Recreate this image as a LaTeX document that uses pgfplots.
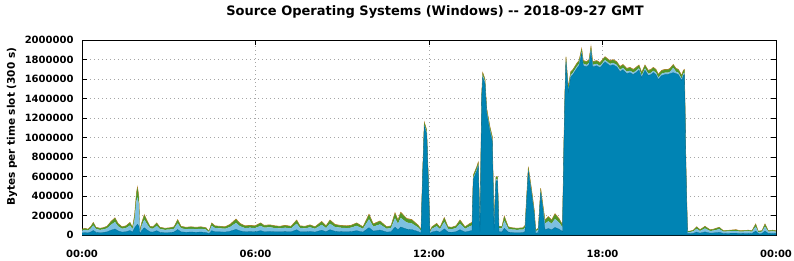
\documentclass[border=0pt]{standalone}
\usepackage{fontspec}
\setmainfont{DejaVu Sans}
\usepackage{pgfplots}
\usepackage{pgfplotstable}
\pgfplotsset{compat=1.18}
\definecolor{cA}{RGB}{0,132,180}
\definecolor{cB}{RGB}{125,192,225}
\definecolor{cC}{RGB}{82,150,40}
\definecolor{cD}{RGB}{185,130,45}
\pgfplotstableread{
x a b c d
0 21000 24000 13000 2000
0.104 25000 28000 15000 2000
0.207 21000 24000 13000 2000
0.311 32000 36000 20000 2000
0.391 46000 52000 29000 3000
0.484 28000 32000 18000 2000
0.622 25000 28000 15000 2000
0.726 26000 30000 17000 2000
0.864 32000 36000 20000 2000
1.003 49000 56000 31000 4000
1.141 62000 71000 39000 5000
1.245 42000 48000 26000 4000
1.383 30000 34000 19000 2000
1.521 33000 38000 21000 3000
1.660 46000 52000 29000 3000
1.746 28000 32000 18000 2000
1.816 70000 80000 44000 6000
1.885 100000 250000 80000 10000
1.919 110000 280000 95000 10000
1.964 90000 230000 72000 8000
2.006 14000 16000 9000 1000
2.058 42000 48000 26000 4000
2.154 74000 84000 46000 6000
2.248 52000 60000 33000 5000
2.352 32000 36000 20000 2000
2.455 30000 34000 19000 2000
2.583 44000 50000 28000 3000
2.697 28000 32000 18000 2000
2.870 25000 28000 15000 2000
3.043 26000 30000 17000 2000
3.182 30000 34000 19000 2000
3.309 56000 64000 35000 5000
3.424 32000 36000 20000 2000
3.597 28000 32000 18000 2000
3.769 30000 34000 19000 2000
3.942 28000 32000 18000 2000
4.115 30000 34000 19000 2000
4.288 26000 30000 17000 2000
4.392 14000 16000 9000 1000
4.485 44000 50000 28000 3000
4.600 33000 38000 21000 3000
4.773 32000 36000 20000 2000
4.946 30000 34000 19000 2000
5.119 38000 44000 24000 4000
5.326 58000 66000 36000 5000
5.464 42000 48000 26000 4000
5.637 33000 38000 21000 3000
5.810 35000 40000 22000 3000
5.983 33000 38000 21000 3000
6.180 44000 50000 28000 3000
6.294 35000 40000 22000 3000
6.502 37000 42000 23000 3000
6.674 33000 38000 21000 3000
6.847 32000 36000 20000 2000
7.020 35000 40000 22000 3000
7.228 32000 36000 20000 2000
7.425 54000 62000 34000 5000
7.539 33000 38000 21000 3000
7.712 32000 36000 20000 2000
7.885 37000 42000 23000 3000
8.058 30000 34000 19000 2000
8.289 49000 56000 31000 4000
8.438 33000 38000 21000 3000
8.576 54000 62000 34000 5000
8.749 38000 44000 24000 4000
8.922 35000 40000 22000 3000
9.154 33000 38000 21000 3000
9.302 35000 40000 22000 3000
9.500 44000 50000 28000 3000
9.717 30000 34000 19000 2000
9.925 75000 86000 47000 7000
10.073 40000 46000 25000 4000
10.305 51000 58000 32000 4000
10.537 30000 34000 19000 2000
10.686 33000 38000 21000 3000
10.824 80000 92000 51000 7000
10.928 54000 62000 34000 5000
11.021 82000 94000 52000 7000
11.229 60000 68000 37000 5000
11.401 56000 64000 35000 5000
11.630 35000 40000 22000 3000
11.723 21000 24000 13000 2000
11.775 555000 15000 25000 5000
11.837 1115000 15000 25000 5000
11.920 1035000 15000 25000 5000
11.976 555000 15000 25000 5000
12.034 14000 16000 9000 1000
12.103 30000 34000 19000 2000
12.266 42000 48000 26000 4000
12.380 28000 32000 18000 2000
12.529 63000 72000 40000 5000
12.657 30000 34000 19000 2000
12.785 28000 32000 18000 2000
12.934 33000 38000 21000 3000
13.072 54000 62000 34000 5000
13.245 30000 34000 19000 2000
13.418 42000 48000 26000 4000
13.487 46000 52000 29000 3000
13.532 570000 15000 25000 5000
13.650 655000 15000 25000 5000
13.705 705000 15000 25000 5000
13.764 35000 40000 22000 3000
13.822 1400000 20000 25000 5000
13.857 1619000 20000 25000 5000
13.936 1550000 20000 25000 5000
13.995 1250000 20000 25000 5000
14.109 1060000 20000 25000 5000
14.189 960000 20000 25000 5000
14.248 52000 60000 33000 5000
14.317 555000 15000 25000 5000
14.369 555000 15000 25000 5000
14.421 32000 36000 20000 2000
14.524 32000 36000 20000 2000
14.604 68000 78000 43000 6000
14.742 30000 34000 19000 2000
14.870 26000 30000 17000 2000
15.043 25000 28000 15000 2000
15.251 26000 30000 17000 2000
15.320 35000 40000 22000 3000
15.434 655000 15000 25000 5000
15.551 415000 15000 25000 5000
15.641 210000 15000 25000 5000
15.690 18000 20000 11000 1000
15.780 25000 28000 15000 2000
15.863 435000 15000 25000 5000
15.932 280000 15000 25000 5000
16.011 54000 62000 34000 5000
16.125 66000 76000 42000 6000
16.243 54000 62000 34000 5000
16.357 77000 88000 48000 7000
16.495 60000 68000 37000 5000
16.589 42000 48000 26000 4000
16.616 35000 40000 22000 3000
16.668 950000 20000 25000 5000
16.703 1445000 25000 25000 5000
16.737 1775000 20000 30000 5000
16.817 1465000 20000 30000 5000
16.900 1620000 20000 30000 5000
16.980 1645000 20000 30000 5000
17.107 1705000 20000 30000 5000
17.187 1735000 20000 30000 5000
17.280 1860000 20000 30000 5000
17.336 1735000 20000 30000 5000
17.453 1725000 20000 30000 5000
17.533 1745000 20000 30000 5000
17.602 1885000 20000 30000 5000
17.661 1725000 20000 30000 5000
17.799 1735000 20000 30000 5000
17.913 1715000 20000 30000 5000
18.086 1775000 20000 30000 5000
18.259 1735000 20000 30000 5000
18.363 1745000 20000 30000 5000
18.491 1725000 20000 30000 5000
18.605 1675000 20000 30000 5000
18.709 1695000 20000 30000 5000
18.837 1655000 20000 30000 5000
18.951 1665000 20000 30000 5000
19.065 1645000 20000 30000 5000
19.158 1665000 20000 30000 5000
19.262 1690000 20000 30000 5000
19.355 1615000 20000 30000 5000
19.469 1690000 20000 30000 5000
19.583 1635000 20000 30000 5000
19.677 1645000 20000 30000 5000
19.756 1665000 20000 30000 5000
19.850 1645000 20000 30000 5000
19.929 1595000 20000 30000 5000
20.047 1635000 20000 30000 5000
20.161 1645000 20000 30000 5000
20.265 1645000 20000 30000 5000
20.334 1655000 20000 30000 5000
20.448 1665000 50000 30000 5000
20.541 1655000 20000 30000 5000
20.621 1645000 20000 30000 5000
20.738 1585000 20000 30000 5000
20.794 1635000 20000 30000 5000
20.835 1645000 20000 30000 5000
20.887 655000 15000 25000 5000
20.939 14000 16000 9000 1000
21.025 14000 16000 9000 1000
21.140 18000 20000 11000 1000
21.257 30000 34000 19000 2000
21.371 19000 22000 12000 2000
21.544 32000 36000 20000 2000
21.717 19000 22000 12000 2000
21.831 21000 24000 13000 2000
22.039 28000 32000 18000 2000
22.177 16000 18000 10000 1000
22.409 18000 20000 11000 1000
22.616 19000 22000 12000 2000
22.755 16000 18000 10000 1000
23.042 18000 20000 11000 1000
23.170 16000 18000 10000 1000
23.297 40000 46000 25000 4000
23.387 14000 16000 9000 1000
23.515 16000 18000 10000 1000
23.619 40000 46000 25000 4000
23.733 16000 18000 10000 1000
23.885 18000 20000 11000 1000
24.000 16000 18000 10000 1000
}\data
\begin{document}
\begin{tikzpicture}[x=1pt,y=1pt]
\useasboundingbox (0,0) rectangle (794,260);
\begin{axis}[
  at={(82pt,25pt)}, anchor=south west,
  scale only axis, width=694pt, height=195pt,
  xmin=0, xmax=24, ymin=0, ymax=2000000,
  stack plots=y,
  xtick={0,6,12,18,24},
  xticklabels={00:00,06:00,12:00,18:00,00:00},
  ytick={0,200000,400000,600000,800000,1000000,1200000,1400000,1600000,1800000,2000000},
  scaled y ticks=false,
  /pgf/number format/assume math mode=true,
  /pgf/number format/set thousands separator={},
  yticklabel={\pgfmathprintnumber[fixed,precision=0]{\tick}},
  tick label style={font=\fontsize{10}{12}\selectfont\bfseries},
  xticklabel style={yshift=-12pt},
  yticklabel style={xshift=-5pt},
  tick align=inside,
  major tick length=5pt,
  tick style={black, line width=0.8pt},
  axis line style={line width=1pt},
  grid=major,
  major grid style={gray!70, dash pattern=on 1pt off 3pt, line width=0.7pt},
  ylabel={Bytes per time slot (300 s)},
  ylabel style={font=\fontsize{10.5}{12}\selectfont\bfseries, at={(rel axis cs:-0.101,0.555)}, anchor=center},
]
\addplot[fill=cA, draw=cA!80!black, line width=0.3pt] table[x=x,y=a] {\data} \closedcycle;
\addplot[fill=cB, draw=none] table[x=x,y=b] {\data} \closedcycle;
\addplot[fill=cC, draw=none] table[x=x,y=c] {\data} \closedcycle;
\addplot[fill=cD, draw=cD, line width=0.4pt] table[x=x,y=d] {\data} \closedcycle;
\end{axis}
\node[font=\fontsize{13}{15}\selectfont\bfseries] at (435,248) {Source Operating Systems (Windows) -{}- 2018-09-27 GMT};
\end{tikzpicture}
\end{document}
